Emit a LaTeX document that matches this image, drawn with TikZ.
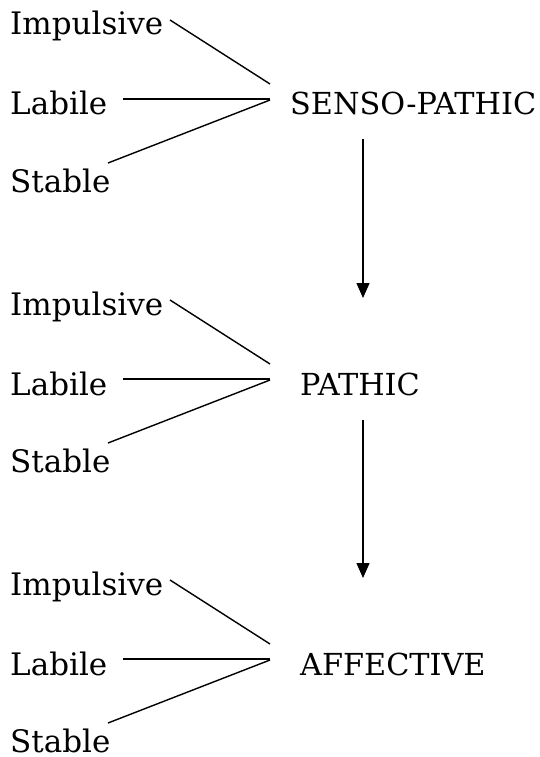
\documentclass[tikz,border=0pt]{standalone}
\usepackage{fontspec}
\setmainfont{DejaVu Serif}
\usetikzlibrary{arrows.meta}
\begin{document}
\begin{tikzpicture}[x=1pt,y=-1pt,
  lbl/.style={anchor=base west,inner sep=0pt,font=\fontsize{31}{36}\selectfont},
  mainlbl/.style={lbl,font=\fontsize{30.3}{36}\selectfont},
  conn/.style={line width=1.4pt},
  flow/.style={line width=1.4pt,-{Triangle[length=15pt,width=13pt]}}]
\useasboundingbox (0,0) rectangle (539,757);
\foreach \dy/\name/\x/\k in {0/SENSO-PATHIC/290/a,280/PATHIC/300/b,560/AFFECTIVE/300/c}{
  \node[lbl] (imp\k) at (10,35+\dy) {Impulsive};
  \node[lbl] (lab\k) at (10,115+\dy) {Labile};
  \node[lbl] (sta\k) at (10,192+\dy) {Stable};
  \node[mainlbl] (main\k) at (\x,115+\dy) {\name};
  \coordinate (i0\k) at (170,20+\dy);
  \coordinate (i1\k) at (270,84+\dy);
  \coordinate (l0\k) at (123,99+\dy);
  \coordinate (j\k) at (270,99+\dy);
  \coordinate (s0\k) at (108,163+\dy);
  \coordinate (s1\k) at (270,100+\dy);
  \draw[conn] (i0\k) -- (i1\k);
  \draw[conn] (l0\k) -- (j\k);
  \draw[conn] (s0\k) -- (s1\k);
}
\coordinate (a0) at (363,139);
\coordinate (a1) at (363,298);
\coordinate (b0) at (363,420);
\coordinate (b1) at (363,578);
\draw[flow] (a0) -- (a1);
\draw[flow] (b0) -- (b1);
\end{tikzpicture}
\end{document}
